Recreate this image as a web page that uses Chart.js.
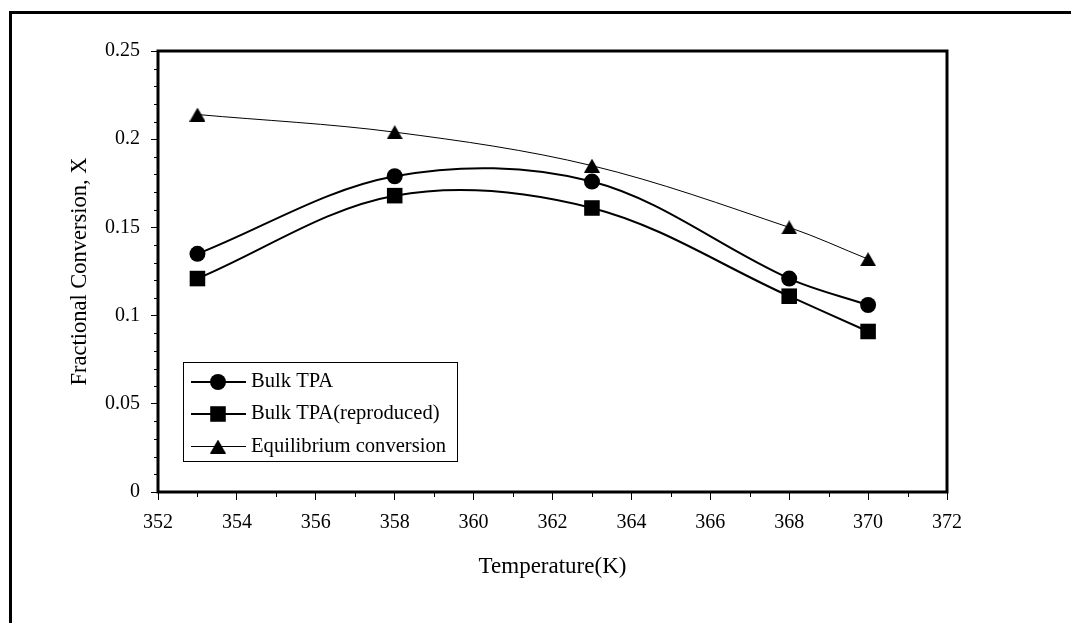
<!DOCTYPE html>
<html>
<head>
<meta charset="utf-8">
<title>Fractional Conversion vs Temperature</title>
<script src="https://cdn.jsdelivr.net/npm/chart.js@4.4.1/dist/chart.umd.min.js"></script>
<style>
  body { margin: 0; background: #fff; }
  canvas { display: block; }
</style>
</head>
<body>
<canvas id="chartConversion" width="1071" height="623"></canvas>
<script>
// temperatures (K) and fractional conversion for each run
const temperatures = [353, 358, 363, 368, 370]
const bulkTPA = [0.135, 0.179, 0.176, 0.121, 0.106]
const bulkTPARepro = [0.121, 0.168, 0.161, 0.111, 0.091]
const equilibrium = [0.214, 0.204, 0.185, 0.150, 0.132]

const xTicks = [352, 354, 356, 358, 360, 362, 364, 366, 368, 370, 372]
const yTicks = [0, 0.05, 0.1, 0.15, 0.2, 0.25]

const fontFamily = '"Liberation Serif", "Times New Roman", serif'
Chart.defaults.font.family = fontFamily
Chart.defaults.font.size = 20
Chart.defaults.color = '#000'

function toPoints(values) {
    return temperatures.map((t, i) => ({ x: t, y: values[i] }))
}

// filled triangle centred on its box, used as point style
function triangleMarker(w, h) {
    let c = document.createElement('canvas')
    c.width = w
    c.height = h
    let g = c.getContext('2d')
    g.fillStyle = '#000'
    g.beginPath()
    g.moveTo(w / 2, 0)
    g.lineTo(w, h)
    g.lineTo(0, h)
    g.closePath()
    g.fill()
    return c
}
const triangle = triangleMarker(16, 14)

// same shapes chart.js uses for its point styles
function drawMarker(ctx, style, x, y, r) {
    if (style instanceof HTMLCanvasElement) {
        ctx.drawImage(style, x - style.width / 2, y - style.height / 2)
        return
    }
    ctx.beginPath()
    if (style === 'circle') {
        ctx.arc(x, y, r, 0, Math.PI * 2)
    } else if (style === 'rect') {
        let s = r * Math.SQRT1_2
        ctx.rect(x - s, y - s, 2 * s, 2 * s)
    }
    ctx.fill()
}

// white page with the thick outer border
const pageFrame = {
    id: 'pageFrame',
    beforeDraw(chart) {
        const ctx = chart.ctx
        ctx.save()
        ctx.fillStyle = '#fff'
        ctx.fillRect(0, 0, chart.width, chart.height)
        ctx.strokeStyle = '#000'
        ctx.lineWidth = 3
        ctx.strokeRect(10.5, 12.5, chart.width + 20, chart.height + 20)
        ctx.restore()
    }
}

// box round the plot area plus the small minor ticks
const plotFrame = {
    id: 'plotFrame',
    beforeDatasetsDraw(chart) {
        const { ctx, chartArea: a, scales: { x, y } } = chart
        ctx.save()
        ctx.strokeStyle = '#000'
        ctx.lineWidth = 1
        ctx.beginPath()
        for (let v = x.min + 1; v < x.max; v += 2) {
            const px = Math.round(x.getPixelForValue(v)) + 0.5
            ctx.moveTo(px, a.bottom)
            ctx.lineTo(px, a.bottom + 5)
        }
        for (let i = 1; i < 25; i++) {
            if (i % 5 === 0) continue
            const py = Math.round(y.getPixelForValue(i / 100)) + 0.5
            ctx.moveTo(a.left - 4, py)
            ctx.lineTo(a.left, py)
        }
        ctx.stroke()
        ctx.lineWidth = 3
        ctx.strokeRect(a.left, a.top, a.right - a.left, a.bottom - a.top)
        ctx.restore()
    }
}

// legend box inside the plot, lower left
const boxLegend = {
    id: 'boxLegend',
    afterDraw(chart) {
        const ctx = chart.ctx
        ctx.save()
        ctx.fillStyle = '#fff'
        ctx.fillRect(183.5, 362.5, 274, 99)
        ctx.strokeStyle = '#000'
        ctx.lineWidth = 1
        ctx.strokeRect(183.5, 362.5, 274, 99)
        ctx.font = '20.6px ' + fontFamily
        ctx.textBaseline = 'middle'
        chart.data.datasets.forEach(function (ds, i) {
            const cy = 382 + i * 32 + (ds.borderWidth % 2 ? 0.5 : 0)
            ctx.strokeStyle = ds.borderColor
            ctx.lineWidth = ds.borderWidth
            ctx.beginPath()
            ctx.moveTo(191, cy)
            ctx.lineTo(246, cy)
            ctx.stroke()
            ctx.fillStyle = ds.pointBackgroundColor
            drawMarker(ctx, ds.pointStyle, 218, cy, ds.pointRadius)
            ctx.fillStyle = '#000'
            ctx.fillText(ds.label, 251, cy)
        })
        ctx.restore()
    }
}

const data = {
    datasets: [
        {
            label: 'Bulk TPA',
            data: toPoints(bulkTPA),
            borderColor: '#000',
            borderWidth: 2,
            pointStyle: 'circle',
            pointRadius: 8,
            pointBackgroundColor: '#000',
            pointBorderColor: '#000',
            pointBorderWidth: 0,
            tension: 0.34
        },
        {
            label: 'Bulk TPA(reproduced)',
            data: toPoints(bulkTPARepro),
            borderColor: '#000',
            borderWidth: 2,
            pointStyle: 'rect',
            pointRadius: 11,
            pointBackgroundColor: '#000',
            pointBorderColor: '#000',
            pointBorderWidth: 0,
            tension: 0.34
        },
        {
            label: 'Equilibrium conversion',
            data: toPoints(equilibrium),
            borderColor: '#000',
            borderWidth: 1,
            pointStyle: triangle,
            pointRadius: 8,
            pointBackgroundColor: '#000',
            pointBorderColor: '#000',
            pointBorderWidth: 0,
            tension: 0.34
        }
    ]
}

const config = {
    type: 'line',
    data: data,
    options: {
        responsive: false,
        animation: false,
        events: [],
        layout: { padding: { left: 0, top: 51, right: 124, bottom: 0 } },
        plugins: {
            legend: { display: false },
            tooltip: { enabled: false }
        },
        scales: {
            x: {
                type: 'linear',
                min: 352,
                max: 372,
                afterBuildTicks: s => { s.ticks = xTicks.map(v => ({ value: v })) },
                afterFit: s => { s.height = 131 },
                grid: { drawOnChartArea: false, tickLength: 8, tickColor: '#000', tickWidth: 1 },
                border: { display: false },
                ticks: { padding: 11, autoSkip: false, maxRotation: 0, callback: v => String(v) },
                title: { display: true, text: 'Temperature(K)', font: { size: 23 }, padding: { top: 0, bottom: 42 } }
            },
            y: {
                type: 'linear',
                min: 0,
                max: 0.25,
                afterBuildTicks: s => { s.ticks = yTicks.map(v => ({ value: v })) },
                afterFit: s => { s.width = 158 },
                grid: { drawOnChartArea: false, tickLength: 7, tickColor: '#000', tickWidth: 1 },
                border: { display: false },
                ticks: { padding: 11, autoSkip: false, callback: v => String(+v.toFixed(2)) },
                title: { display: true, text: 'Fractional Conversion, X', font: { size: 22.5 }, padding: { top: 67, bottom: 0 } }
            }
        }
    },
    plugins: [pageFrame, plotFrame, boxLegend]
}

let myChart = new Chart(document.getElementById('chartConversion'), config)
</script>
</body>
</html>
